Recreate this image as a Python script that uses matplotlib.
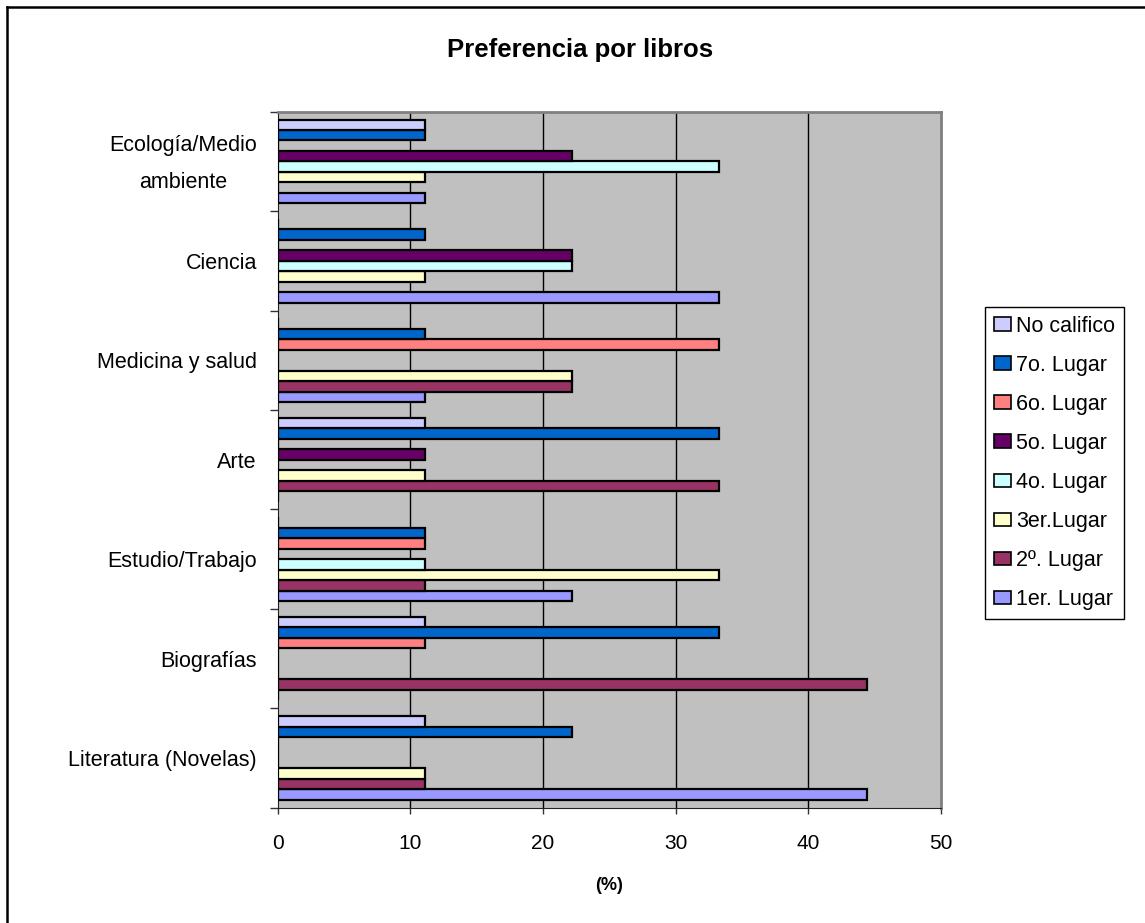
import numpy as np
import matplotlib
matplotlib.use('Agg')
import matplotlib.pyplot as plt
import matplotlib.transforms as mtransforms
from matplotlib.lines import Line2D
from matplotlib.patches import Patch

plt.rcParams['font.family'] = ['Liberation Sans', 'DejaVu Sans']

# ---------- Data ----------
categories = ['Literatura (Novelas)', 'Biografías', 'Estudio/Trabajo', 'Arte',
              'Medicina y salud', 'Ciencia', 'Ecología/Medio\nambiente']
series_names = ['1er. Lugar', '2º. Lugar', '3er.Lugar', '4o. Lugar',
                '5o. Lugar', '6o. Lugar', '7o. Lugar', 'No califico']
series_colors = ['#9999FF', '#993366', '#FFFFCC', '#CCFFFF',
                 '#660066', '#FF8080', '#0066CC', '#CCCCFF']

# values per series, one entry per category (bottom to top)
primero  = [44.4, 0.0, 22.2, 0.0, 11.1, 33.3, 11.1]
segundo  = [11.1, 44.4, 11.1, 33.3, 22.2, 0.0, 0.0]
tercero  = [11.1, 0.0, 33.3, 11.1, 22.2, 11.1, 11.1]
cuarto   = [0.0, 0.0, 11.1, 0.0, 0.0, 22.2, 33.3]
quinto   = [0.0, 0.0, 0.0, 11.1, 0.0, 22.2, 22.2]
sexto    = [0.0, 11.1, 11.1, 0.0, 33.3, 0.0, 0.0]
septimo  = [22.2, 33.3, 11.1, 33.3, 11.1, 11.1, 11.1]
no_calif = [11.1, 11.1, 0.0, 11.1, 0.0, 0.0, 11.1]
series_values = [primero, segundo, tercero, cuarto, quinto, sexto, septimo, no_calif]

x_ticks = [0, 10, 20, 30, 40, 50]

# ---------- Plot ----------
W, H = 1145, 923
fig = plt.figure(figsize=(W / 100, H / 100), dpi=100)
ax = fig.add_axes([277.7 / W, 1 - 807.7 / H, (941 - 277.7) / W, (807.7 - 111.7) / H])
ax.set_facecolor('#C0C0C0')

n_series = len(series_values)
slot = 1.0 / (n_series + 1.5)   # Excel gap width 150%
base = np.arange(len(categories))
for j, (vals, color, name) in enumerate(zip(series_values, series_colors, series_names)):
    y = base + 0.75 * slot + (j + 0.5) * slot
    ax.barh(y, vals, height=slot, color=color, edgecolor='black', linewidth=1.6,
            label=name, zorder=3)

ax.set_xlim(0, 50)
ax.set_ylim(0, len(categories))
ax.set_xticks(x_ticks)
ax.set_xticklabels([str(t) for t in x_ticks], fontsize=15)
ax.tick_params(axis='x', direction='out', length=4, width=1, pad=15, color='#333333')

ax.set_yticks(base + 0.5)
ax.set_yticklabels(categories, fontsize=15.5, multialignment='center', linespacing=2.0)
ax.tick_params(axis='y', which='major', length=0, pad=15)
ax.set_yticks(np.arange(len(categories) + 1), minor=True)
ax.tick_params(axis='y', which='minor', direction='out', length=6, width=1, color='#333333')

# nudge the two-line label up so its lines sit around the group centre
top_label = ax.get_yticklabels()[-1]
top_label.set_transform(top_label.get_transform() +
                        mtransforms.ScaledTranslation(0, 6 / 72, fig.dpi_scale_trans))

for gx in x_ticks[1:-1]:
    ax.axvline(gx, color='black', linewidth=1, zorder=1)

for side in ['top', 'right']:
    ax.spines[side].set_color('#808080')
    ax.spines[side].set_linewidth(2)
ax.spines['left'].set_color('#222222')
ax.spines['bottom'].set_color('#222222')

ax.set_xlabel('(%)', fontsize=13, fontweight='bold', labelpad=17)
fig.text(580 / W, 1 - 50 / H, 'Preferencia por libros', fontsize=18.5, fontweight='bold',
         ha='center', va='center')

# legend (top entry = last series)
handles = [Patch(facecolor=c, edgecolor='black', linewidth=1.2)
           for c in series_colors][::-1]
leg = fig.legend(handles, series_names[::-1], loc='upper left',
                 bbox_to_anchor=(985 / W, 1 - 307 / H), fontsize=15.5,
                 frameon=True, fancybox=False, edgecolor='black', framealpha=1,
                 handlelength=0.8, handleheight=0.6, handletextpad=0.25,
                 labelspacing=0.84, borderpad=0.4, borderaxespad=0)
leg.get_frame().set_linewidth(1)

# outer chart frame (right/bottom edges are cropped in the original)
fig.add_artist(Line2D([7 / W, 7 / W], [0, 1 - 7 / H], transform=fig.transFigure,
                      color='black', linewidth=1.8))
fig.add_artist(Line2D([7 / W, 1], [1 - 7 / H, 1 - 7 / H], transform=fig.transFigure,
                      color='black', linewidth=1.8))

fig.savefig('out.png', dpi=100)
